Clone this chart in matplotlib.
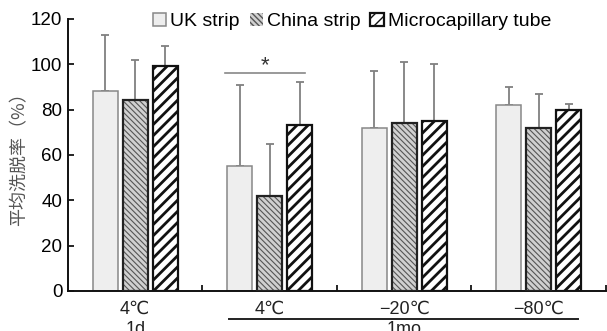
import numpy as np
import matplotlib
matplotlib.use("Agg")
import matplotlib.pyplot as plt
import matplotlib.transforms as mtransforms

plt.rcParams['font.family'] = ['Liberation Sans', 'DejaVu Sans', 'Noto Sans CJK SC']

groups = ["4℃", "4℃", "−20℃", "−80℃"]
series = ["UK strip", "China strip", "Microcapillary tube"]
uk_mean = [88, 55, 72, 82]
uk_err = [25, 36, 25, 8]
china_mean = [84, 42, 74, 72]
china_err = [18, 23, 27, 15]
micro_mean = [99, 73, 75, 80]
micro_err = [9, 19, 25, 2.5]

fig = plt.figure(figsize=(6.07, 3.31), dpi=100)
ax = fig.add_axes([0.112, 0.121, 0.886, 0.822])

x = np.arange(len(groups))
w = 0.186
step = 0.223

# UK strip: light gray fill
b1 = ax.bar(x - step, uk_mean, w, color="#eeeeee", edgecolor="#888888", linewidth=1.1, zorder=2)
# China strip: fine gray hatch, drawn as hatch layer + outline
b2h = ax.bar(x, china_mean, w, color="#d0d0d0", edgecolor="#555555", linewidth=0, hatch="\\\\\\\\\\\\", zorder=2)
b2 = ax.bar(x, china_mean, w, fill=False, edgecolor="#222222", linewidth=1.6, zorder=3)
# Microcapillary tube: bold black diagonal hatch
b3 = ax.bar(x + step, micro_mean, w, color="white", edgecolor="#111111", linewidth=1.6, hatch="///", zorder=2)
for p in b3:
    if hasattr(p, "set_hatch_linewidth"):
        p.set_hatch_linewidth(2.0)
for p in b2h:
    if hasattr(p, "set_hatch_linewidth"):
        p.set_hatch_linewidth(0.8)

for off, m, e in [(-step, uk_mean, uk_err), (0, china_mean, china_err), (step, micro_mean, micro_err)]:
    ax.errorbar(x + off, m, yerr=[np.zeros(len(e)), e], fmt="none", ecolor="#808080",
                elinewidth=1.3, capsize=3, capthick=1.3, zorder=1)

ax.set_xlim(-0.5, 3.5)
ax.set_ylim(0, 120)
ax.set_yticks(range(0, 121, 20))
ax.set_xticks(x)
ax.set_xticklabels(groups)
ax.set_xticks([0.5, 1.5, 2.5, 3.5], minor=True)
ax.tick_params(axis="x", which="major", length=0, labelsize=13, pad=7, labelcolor="#222222")
ax.tick_params(axis="x", which="minor", direction="in", length=4, width=1.2)
ax.tick_params(axis="y", direction="in", length=4, width=1.2, labelsize=13.5, pad=4)
for s in ["top", "right"]:
    ax.spines[s].set_visible(False)
for s in ["left", "bottom"]:
    ax.spines[s].set_linewidth(1.4)
    ax.spines[s].set_color("#111111")

ax.set_ylabel("平均洗脱率（%）", family=["Noto Sans CJK SC"], fontsize=13, color="#555555", labelpad=2)

# significance marker
ax.plot([0.667, 1.262], [96, 96], color="#888888", lw=1.2, clip_on=False)
ax.text(0.965, 94.5, "*", ha="center", va="bottom", fontsize=16, color="#333333")

# time row under tick labels
tr = mtransforms.blended_transform_factory(ax.transData, ax.transAxes)
ax.plot([0.697, 3.29], [-0.103, -0.103], color="#222222", lw=1.4, transform=tr, clip_on=False)
ax.text(0, -0.112, "1d", ha="center", va="top", fontsize=13, transform=tr, color="#222222")
ax.text(2.0, -0.112, "1mo", ha="center", va="top", fontsize=13, transform=tr, color="#222222")

fig.legend([b1, b2h, b3], series, loc="center", bbox_to_anchor=(0.58, 0.935), ncol=3,
           frameon=False, fontsize=14, handlelength=0.7, handleheight=0.7,
           handletextpad=0.2, columnspacing=0.5, borderpad=0)

fig.savefig("out.png", dpi=100)
